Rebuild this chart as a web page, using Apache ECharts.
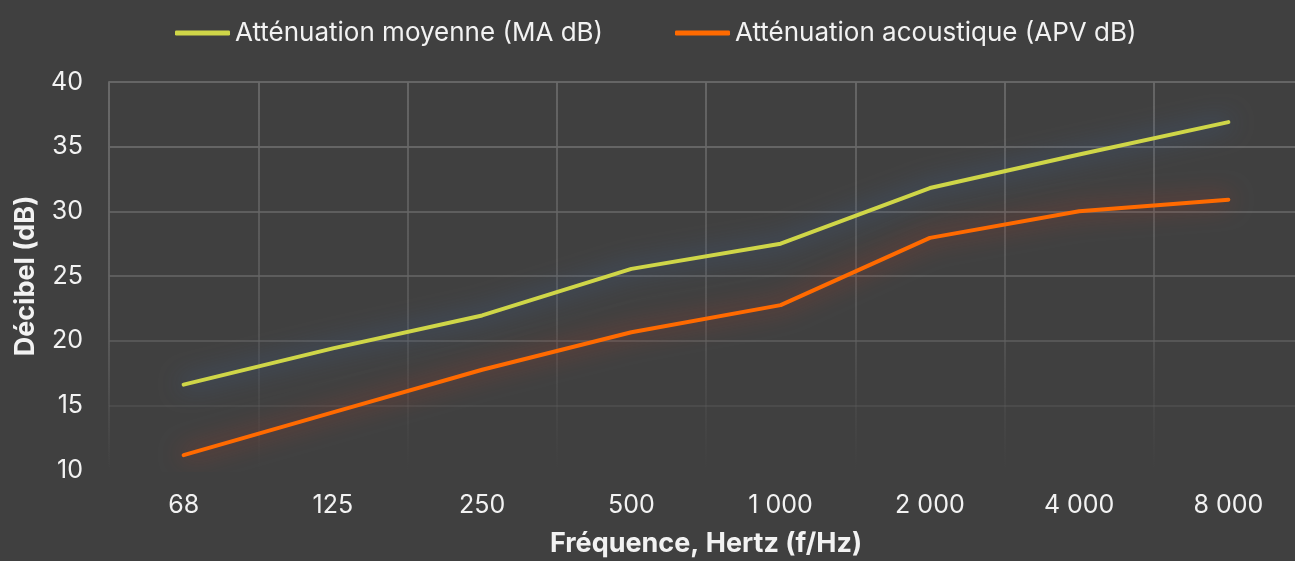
<!DOCTYPE html>
<html><head><meta charset="utf-8">
<script src="https://cdn.jsdelivr.net/npm/echarts@6/dist/echarts.min.js"></script>
<style>html,body{margin:0;padding:0;background:#404040;overflow:hidden;}#c{width:1295px;height:561px;}</style>
</head><body><div id="c"></div>
<script>
const categories = ['68','125','250','500','1 000','2 000','4 000','8 000'];
const seriesMA = [16.6, 19.4, 21.95, 25.55, 27.5, 31.8, 34.4, 36.9];
const seriesAPV = [11.15, 14.45, 17.75, 20.65, 22.75, 27.95, 30.0, 30.9];
const yTicks = {min: 10, max: 40, interval: 5};
const nameMA = 'Atténuation moyenne (MA dB)';
const nameAPV = 'Atténuation acoustique (APV dB)';

const chart = echarts.init(document.getElementById('c'));
const font = 'Inter, "Liberation Sans", Arial, sans-serif';
const vGrad = new echarts.graphic.LinearGradient(0, 82, 0, 470, [
  {offset: 0, color: 'rgba(105,105,105,0.9)'},
  {offset: 0.6, color: 'rgba(100,100,100,0.6)'},
  {offset: 1, color: 'rgba(90,90,90,0)'}
], true);
const legendBase = {
  top: 15, itemWidth: 55, itemHeight: 5, icon: 'roundRect', itemGap: 4,
  textStyle: {color: '#f2f2f2', fontSize: 26, fontFamily: font}
};
chart.setOption({
  backgroundColor: '#404040',
  animation: false,
  legend: [
    Object.assign({left: 170, data: [nameMA]}, legendBase),
    Object.assign({left: 670, data: [nameAPV]}, legendBase)
  ],
  grid: {left: 109, top: 82, width: 1194, height: 388, containLabel: false, outerBoundsMode: 'none'},
  xAxis: {
    type: 'category', data: categories, boundaryGap: true,
    name: 'Fréquence, Hertz (f/Hz)', nameLocation: 'middle', nameGap: 60,
    nameTextStyle: {color: '#f2f2f2', fontSize: 27, fontWeight: 'bold', fontFamily: font},
    axisLine: {show: false}, axisTick: {show: false},
    axisLabel: {color: '#f2f2f2', fontSize: 25, fontFamily: font, margin: 23},
    splitLine: {show: true, lineStyle: {color: vGrad, width: 2}}
  },
  yAxis: {
    type: 'value', min: yTicks.min, max: yTicks.max, interval: yTicks.interval,
    name: 'Décibel (dB)', nameLocation: 'middle', nameGap: 70,
    nameTextStyle: {color: '#f2f2f2', fontSize: 27, fontWeight: 'bold', fontFamily: font},
    axisLine: {show: true, lineStyle: {color: vGrad, width: 2}}, axisTick: {show: false},
    axisLabel: {color: '#f2f2f2', fontSize: 25, fontFamily: font, margin: 26},
    splitLine: {show: true, lineStyle: {width: 2, color: ['rgba(0,0,0,0)','rgba(85,85,85,0.5)','rgba(95,95,95,0.7)','rgba(100,100,100,0.8)','rgba(100,100,100,0.85)','rgba(105,105,105,0.9)','rgba(105,105,105,0.9)']}}
  },
  series: [
    {name: nameMA, type: 'line', data: seriesMA,
     showSymbol: false, symbol: 'none', color: '#cfd648',
     lineStyle: {width: 4, color: '#cfd648', cap: 'round', join: 'round',
       shadowBlur: 24, shadowColor: 'rgba(60,105,170,0.95)'}},
    {name: nameAPV, type: 'line', data: seriesAPV,
     showSymbol: false, symbol: 'none', color: '#ff6a00',
     lineStyle: {width: 4, color: '#ff6a00', cap: 'round', join: 'round',
       shadowBlur: 24, shadowColor: 'rgba(200,55,30,0.85)'}}
  ]
});
</script></body></html>
